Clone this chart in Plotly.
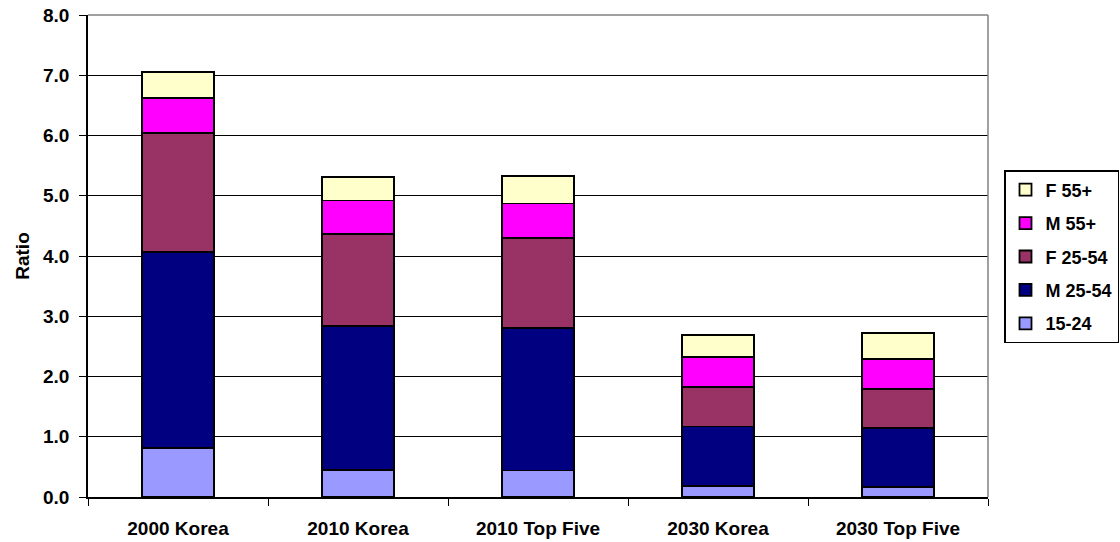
import plotly.graph_objects as go

categories = ["2000 Korea", "2010 Korea", "2010 Top Five", "2030 Korea", "2030 Top Five"]
series_names = ["15-24", "M 25-54", "F 25-54", "M 55+", "F 55+"]
v_15_24 = [0.82, 0.45, 0.44, 0.18, 0.17]
v_m_25_54 = [3.24, 2.39, 2.36, 0.99, 0.98]
v_f_25_54 = [1.98, 1.52, 1.50, 0.66, 0.64]
v_m_55 = [0.58, 0.56, 0.57, 0.50, 0.50]
v_f_55 = [0.44, 0.39, 0.46, 0.36, 0.43]
y_ticks = [0, 1, 2, 3, 4, 5, 6, 7, 8]

colors = ["#9999FF", "#000080", "#993366", "#FF00FF", "#FFFFCC"]
values = [v_15_24, v_m_25_54, v_f_25_54, v_m_55, v_f_55]

font_family = "Liberation Sans, Arial, sans-serif"
fsize = 19

fig = go.Figure()
for i, (name, vals, col) in enumerate(zip(series_names, values, colors)):
    fig.add_trace(go.Bar(
        x=categories, y=vals, name=name, legendgroup=name,
        legendrank=1000 - i,
        marker=dict(color=col, line=dict(color="black", width=1.8)),
    ))

fig.update_layout(
    barmode="stack",
    bargap=0.6,
    width=1120, height=542,
    margin=dict(l=88, r=132, t=15, b=45, autoexpand=False),
    paper_bgcolor="white", plot_bgcolor="white",
    font=dict(family=font_family, size=fsize, color="black"),
    showlegend=True,
    legend=dict(
        traceorder="grouped", tracegroupgap=7,
        x=(1004 - 88) / 900, xanchor="left", y=(497 - 170) / 482, yanchor="top",
        bordercolor="black", borderwidth=1.5,
        font=dict(family=font_family, size=18, color="black", weight="bold"),
        itemwidth=30,
    ),
    xaxis=dict(
        showline=True, linecolor="black", linewidth=1.5,
        ticks="outside", tickson="boundaries", ticklen=7, tickcolor="black",
        ticklabelstandoff=13,
        tickfont=dict(family=font_family, size=fsize, color="black", weight="bold"),
        showgrid=False,
    ),
    yaxis=dict(
        range=[0, 8], tickvals=y_ticks, tickformat=".1f",
        showline=True, linecolor="black", linewidth=1.5,
        ticks="outside", ticklen=7, tickcolor="black",
        ticklabelstandoff=6,
        showgrid=True, gridcolor="black", gridwidth=1.4,
        zeroline=False,
        tickfont=dict(family=font_family, size=fsize, color="black", weight="bold"),
        title=dict(text="Ratio", font=dict(family=font_family, size=fsize, color="black", weight="bold"), standoff=8),
    ),
    shapes=[
        dict(type="line", xref="paper", yref="paper", x0=0, x1=1, y0=1, y1=1,
             line=dict(color="#808080", width=1.5), layer="above"),
        dict(type="line", xref="paper", yref="paper", x0=1, x1=1, y0=0, y1=1,
             line=dict(color="#808080", width=1.5), layer="above"),
    ],
)

fig.write_html("out.html")
